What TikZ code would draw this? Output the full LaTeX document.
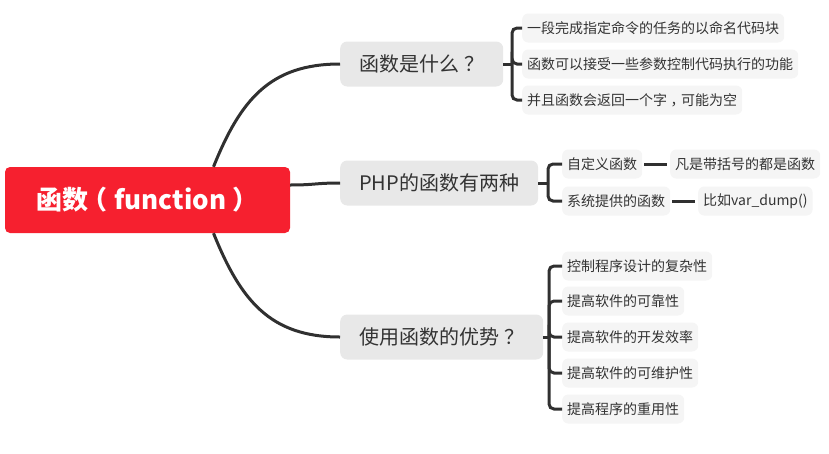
\documentclass[tikz,border=0pt]{standalone}
\usepackage{fontspec}
\setmainfont{Noto Sans CJK SC}
\usepackage{xcolor}
\usepackage{tikz}
\usetikzlibrary{positioning}
\definecolor{rootc}{HTML}{F6202F}
\definecolor{linec}{HTML}{303030}
\definecolor{txtc}{HTML}{333333}
\definecolor{topicbg}{HTML}{E8E8E8}
\definecolor{leafbg}{HTML}{F5F5F5}
\tikzset{
  rootbox/.style={fill=rootc,text=white,rounded corners=5pt,minimum width=285pt,minimum height=66pt,font=\fontsize{26}{30}\selectfont\bfseries},
  topic/.style={fill=topicbg,text=txtc,rounded corners=7pt,anchor=west,inner xsep=19pt,minimum height=45pt,font=\fontsize{20}{24}\selectfont},
  leaf/.style={fill=leafbg,text=txtc,rounded corners=6pt,anchor=west,inner xsep=5pt,minimum height=29pt,font=\fontsize{14}{17}\selectfont},
  ln/.style={linec,line width=3pt},
  br/.style={linec,line width=3pt,rounded corners=5pt}
}
\begin{document}
\begin{tikzpicture}[x=1pt,y=-1pt]
\useasboundingbox (0,0) rectangle (829,453);
% central topic
\node[rootbox] (fn) at (147.5,200) {函数\hspace{-0.25em}（\hspace{0.25em}function\hspace{0.25em}）\hspace{-0.25em}};
% main branches
\node[topic] (what) at (340,64) {函数是什么\hspace{0.25em}？\hspace{-0.25em}};
\node[topic] (kinds) at (340,183) {PHP的函数有两种};
\node[topic] (pros) at (340,337) {使用函数的优势\hspace{0.25em}？\hspace{-0.25em}};
\draw[ln] ([xshift=66pt]fn.north) .. controls +(27,-67) and +(-70,0) .. (what.west);
\draw[ln] ([yshift=15pt]fn.east) .. controls +(25,0) and +(-25,0) .. (kinds.west);
\draw[ln] ([xshift=66pt]fn.south) .. controls +(27,67) and +(-70,0) .. (pros.west);
% what
\node[leaf] (w1) at (522,28) {一段完成指定命令的任务的以命名代码块};
\node[leaf] (w2) at (522,64) {函数可以接受一些参数控制代码执行的功能};
\node[leaf] (w3) at (522,100) {并且函数会返回一个字\hspace{0.25em}，\hspace{-0.25em}可能为空};
\coordinate (wj) at (512,64);
\draw[ln] (what.east) -- (wj);
\draw[br] (wj) |- (w1.west);
\draw[br] (wj) |- (w2.west);
\draw[br] (wj) |- (w3.west);
% kinds
\node[leaf] (k1) at (562,164) {自定义函数};
\node[leaf] (k2) at (562,201) {系统提供的函数};
\node[leaf] (k1x) at (670,164) {凡是带括号的都是函数};
\node[leaf] (k2x) at (698,201) {比如var\_dump()};
\coordinate (kj) at (548,183);
\draw[ln] (kinds.east) -- (kj);
\draw[br] (kj) |- (k1.west);
\draw[br] (kj) |- (k2.west);
\draw[ln,shorten <=2pt,shorten >=3pt] (k1) -- (k1x);
\draw[ln,shorten <=2pt,shorten >=3pt] (k2) -- (k2x);
% pros
\node[leaf] (p1) at (562,266) {控制程序设计的复杂性};
\node[leaf] (p2) at (562,301) {提高软件的可靠性};
\node[leaf] (p3) at (562,337) {提高软件的开发效率};
\node[leaf] (p4) at (562,373) {提高软件的可维护性};
\node[leaf] (p5) at (562,409) {提高程序的重用性};
\coordinate (pj) at (549,337);
\draw[ln] (pros.east) -- (pj);
\draw[br] (pj) |- (p1.west);
\draw[br] (pj) |- (p2.west);
\draw[br] (pj) |- (p3.west);
\draw[br] (pj) |- (p4.west);
\draw[br] (pj) |- (p5.west);
\end{tikzpicture}
\end{document}
